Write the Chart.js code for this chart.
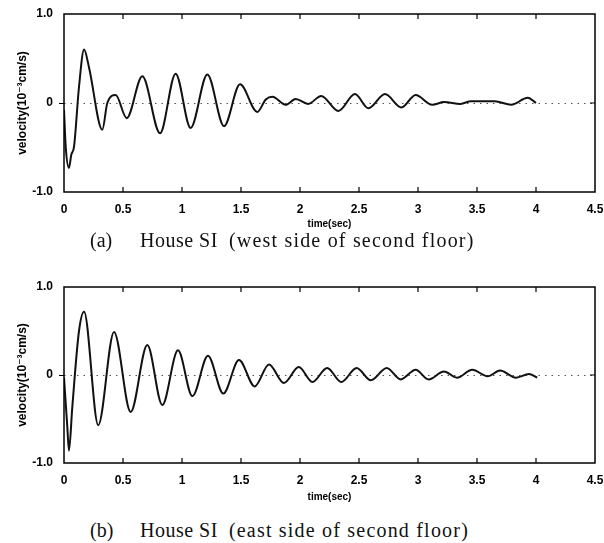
<!DOCTYPE html>
<html>
<head>
<meta charset="utf-8">
<script src="https://cdn.jsdelivr.net/npm/chart.js@4"></script>
<style>
  html, body { margin: 0; padding: 0; background: #fff; }
  #wrap { position: relative; width: 604px; height: 543px; }
  canvas { position: absolute; left: 0; }
  .caption {
    position: absolute; left: 90px;
    font-family: "Liberation Serif", "DejaVu Serif", serif;
    font-size: 20px; line-height: 24px; white-space: pre; color: #111;
  }
  .caption .tag { display: inline-block; width: 50px; }
  .caption .name { letter-spacing: 0.5px; }
  .caption .paren { letter-spacing: 1.2px; margin-left: 11px; }
</style>
</head>
<body>
<div id="wrap">
  <canvas id="chartA" width="604" height="230" style="top:0"></canvas>
  <div class="caption" style="top:228px"><span class="tag">(a)</span><span class="name">House SI</span><span class="paren">(west side of second floor)</span></div>
  <canvas id="chartB" width="604" height="230" style="top:273px"></canvas>
  <div class="caption" style="top:518px"><span class="tag">(b)</span><span class="name">House SI</span><span class="paren">(east side of second floor)</span></div>
</div>
<script>
// Ejes
const xTickValues = [0, 0.5, 1, 1.5, 2, 2.5, 3, 3.5, 4, 4.5];
const xTickLabels = ['0', '0.5', '1', '1.5', '2', '2.5', '3', '3.5', '4', '4.5'];
const yTickValues = [-1, 0, 1];
const yTickLabels = ['-1.0', '0', '1.0'];
const xTitle = 'time(sec)';
const yTitle = 'velocity(10\u207B\u00B3cm/s)';

// (a) west side of second floor
const westTime = [0, 0.015, 0.042, 0.062, 0.085, 0.127, 0.17, 0.212, 0.325, 0.367, 0.438, 0.531,
  0.664, 0.814, 0.946, 1.073, 1.215, 1.356, 1.492, 1.638, 1.71, 1.766, 1.879, 1.963, 2.07,
  2.18, 2.325, 2.466, 2.58, 2.72, 2.86, 2.98, 3.12, 3.22, 3.36, 3.45, 3.65, 3.79, 3.93, 4.0];
const westVel = [-0.08, -0.5, -0.73, -0.58, -0.49, 0.18, 0.6, 0.4, -0.3, 0, 0.09, -0.17,
  0.3, -0.34, 0.33, -0.28, 0.32, -0.26, 0.21, -0.1, 0.04, 0.07, -0.02, 0.045, -0.01,
  0.08, -0.09, 0.1, -0.06, 0.1, -0.05, 0.09, -0.02, 0.01, -0.01, 0.02, 0.02, -0.02, 0.06, 0];

// (b) east side of second floor
const eastTime = [0, 0.028, 0.042, 0.07, 0.127, 0.17, 0.29, 0.424, 0.565, 0.706, 0.833, 0.966,
  1.088, 1.22, 1.35, 1.483, 1.616, 1.737, 1.864, 1.99, 2.105, 2.23, 2.35, 2.48, 2.6, 2.735,
  2.853, 2.98, 3.09, 3.22, 3.33, 3.46, 3.59, 3.695, 3.83, 3.94, 4.01];
const eastVel = [-0.03, -0.59, -0.86, -0.37, 0.5, 0.72, -0.57, 0.49, -0.42, 0.34, -0.34, 0.28,
  -0.24, 0.22, -0.21, 0.17, -0.13, 0.12, -0.09, 0.09, -0.08, 0.08, -0.08, 0.08, -0.06, 0.08,
  -0.05, 0.06, -0.05, 0.04, -0.03, 0.06, -0.015, 0.05, -0.03, 0.01, -0.03];

const FONT = '"Liberation Sans", Arial, "DejaVu Sans", sans-serif';

// Marco y marcas interiores
const framePlugin = {
  id: 'frame',
  afterDatasetsDraw(chart) {
    const { ctx, chartArea: a, scales: { x, y } } = chart;
    ctx.save();
    ctx.strokeStyle = '#000';
    ctx.lineWidth = 1.5;
    ctx.strokeRect(a.left, a.top, a.right - a.left, a.bottom - a.top);
    ctx.lineWidth = 1.2;
    ctx.beginPath();
    xTickValues.slice(1, -1).forEach(v => {
      const px = x.getPixelForValue(v);
      ctx.moveTo(px, a.top); ctx.lineTo(px, a.top + 5);
      ctx.moveTo(px, a.bottom); ctx.lineTo(px, a.bottom - 5);
    });
    const y0 = y.getPixelForValue(0);
    ctx.moveTo(a.right, y0); ctx.lineTo(a.right - 5, y0);
    ctx.stroke();
    ctx.restore();
  }
};

function crearGrafico(id, times, vels, xHeight) {
  const ctx = document.getElementById(id);
  return new Chart(ctx, {
    type: 'line',
    data: {
      datasets: [{
        data: times.map((t, i) => ({ x: t, y: vels[i] })),
        borderColor: '#111',
        borderWidth: 2,
        pointRadius: 0,
        fill: false,
        cubicInterpolationMode: 'monotone'
      }]
    },
    options: {
      responsive: false,
      animation: false,
      layout: { padding: { top: 14, right: 9, left: 0, bottom: 0 } },
      plugins: { legend: { display: false }, tooltip: { enabled: false } },
      scales: {
        x: {
          type: 'linear',
          min: 0,
          max: 4.5,
          afterBuildTicks: s => { s.ticks = xTickValues.map(v => ({ value: v })); },
          afterFit: s => { s.height = xHeight; s.paddingLeft = 0; s.paddingRight = 0; },
          grid: { display: false },
          border: { display: false },
          ticks: {
            color: '#000',
            padding: 2,
            maxRotation: 0,
            autoSkip: false,
            callback: v => xTickLabels[xTickValues.indexOf(v)],
            font: { family: FONT, size: 12, weight: 'bold' }
          },
          title: {
            display: true,
            text: xTitle,
            color: '#000',
            padding: { top: 0, bottom: 0 },
            font: { family: FONT, size: 10, weight: 'bold' }
          }
        },
        y: {
          min: -1,
          max: 1,
          afterBuildTicks: s => { s.ticks = yTickValues.map(v => ({ value: v })); },
          afterFit: s => { s.width = 64; },
          grid: {
            drawTicks: true,
            tickLength: 5,
            lineWidth: 1,
            color: c => (c.tick && c.tick.value === 0) ? '#555' : 'rgba(0,0,0,0)',
            tickColor: c => (c.tick && c.tick.value === 0) ? '#000' : 'rgba(0,0,0,0)',
            tickBorderDash: []
          },
          border: { display: false, dash: [1.5, 5] },
          ticks: {
            color: '#000',
            padding: 6,
            callback: v => yTickLabels[yTickValues.indexOf(v)],
            font: { family: FONT, size: 12, weight: 'bold' }
          },
          title: {
            display: true,
            text: yTitle,
            color: '#000',
            padding: { top: 15, bottom: 0 },
            font: { family: FONT, size: 12, weight: 'bold' }
          }
        }
      }
    },
    plugins: [framePlugin]
  });
}

crearGrafico('chartA', westTime, westVel, 38);
crearGrafico('chartB', eastTime, eastVel, 40);
</script>
</body>
</html>
